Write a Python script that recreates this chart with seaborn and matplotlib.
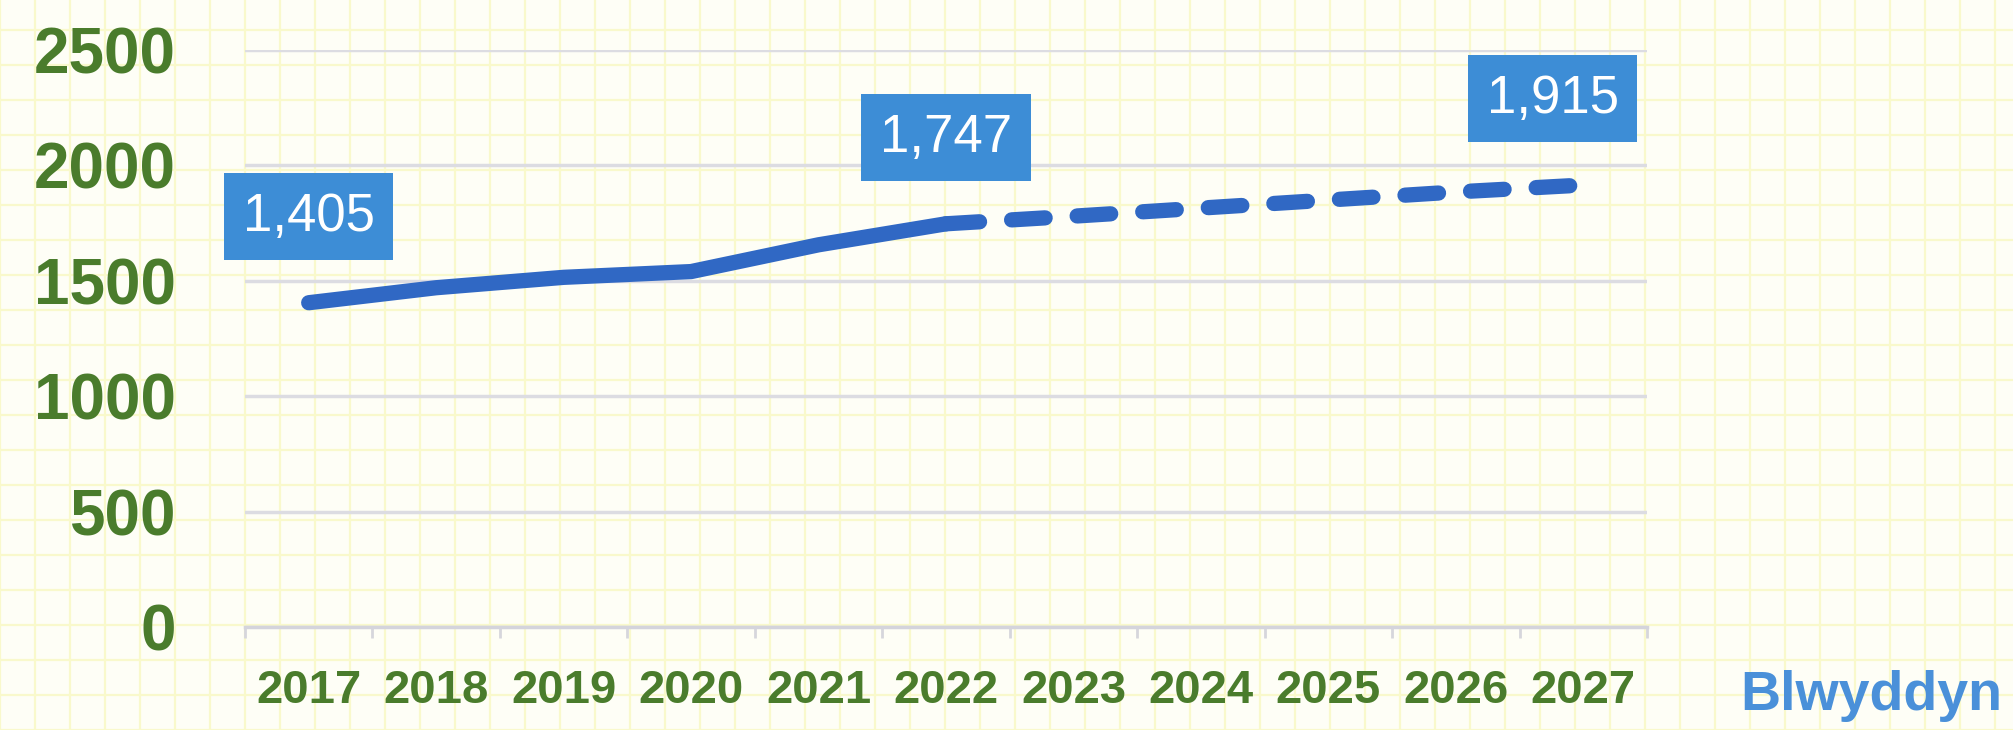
import matplotlib
matplotlib.use("Agg")
import matplotlib.pyplot as plt
from matplotlib.ticker import MultipleLocator, FixedLocator
import seaborn as sns
import pandas as pd

# ---- data ----
years = [2017, 2018, 2019, 2020, 2021, 2022, 2023, 2024, 2025, 2026, 2027]
actual_years = [2017, 2018, 2019, 2020, 2021, 2022]
actual_values = [1405, 1470, 1515, 1540, 1656, 1747]
forecast_years = [2022, 2023, 2024, 2025, 2026, 2027]
forecast_values = [1747, 1780, 1815, 1850, 1885, 1915]
label_years = [2017, 2022, 2027]
label_values = [1405, 1747, 1915]
y_ticks = [0, 500, 1000, 1500, 2000, 2500]
x_title = "Blwyddyn"

GREEN = "#4a7c2c"
LINE = "#3068c4"
BOX = "#3d8dd6"
TITLE_BLUE = "#4a90d9"

sns.set_theme(style="white")
plt.rcParams['font.family'] = ['Liberation Sans', 'DejaVu Sans']

fig = plt.figure(figsize=(20.13, 7.30), dpi=100)

# graph-paper background
bg = fig.add_axes([0, 0, 1, 1], zorder=0)
bg.set_xlim(0, 2013)
bg.set_ylim(0, 730)
bg.xaxis.set_major_locator(MultipleLocator(35))
bg.yaxis.set_major_locator(MultipleLocator(35))
bg.grid(True, color="#f9f9cc", lw=1.6)
bg.tick_params(length=0, labelbottom=False, labelleft=False)
for s in bg.spines.values():
    s.set_visible(False)
bg.set_facecolor("#fefef6")

ax = fig.add_axes([0.1217, 0.1411, 0.6965, 0.7904], zorder=1)
ax.patch.set_alpha(0)

df_a = pd.DataFrame({"year": actual_years, "value": actual_values})
df_f = pd.DataFrame({"year": forecast_years, "value": forecast_values})

sns.lineplot(data=df_a, x="year", y="value", ax=ax, color=LINE, linewidth=11,
             solid_capstyle="round", solid_joinstyle="round", zorder=3)
sns.lineplot(data=df_f, x="year", y="value", ax=ax, color=LINE, linewidth=11,
             linestyle=(0, (2.2, 2.1)), dash_capstyle="round", zorder=3)
for ln in ax.get_lines():
    ln.set_linewidth(11)

ax.set_xlim(years[0] - 0.5, years[-1] + 0.5)
ax.set_ylim(y_ticks[0], y_ticks[-1])
ax.set_xticks(years)
ax.set_xticklabels([str(y) for y in years])
ax.xaxis.set_minor_locator(FixedLocator([y - 0.5 for y in years] + [years[-1] + 0.5]))
ax.set_yticks(y_ticks)
ax.set_yticklabels([str(v) for v in y_ticks])

ax.tick_params(axis="x", which="major", length=0, pad=30, labelsize=34,
               labelcolor=GREEN)
ax.tick_params(axis="x", which="minor", length=8, width=2, color="#d6d6dc",
               direction="out", bottom=True)
ax.tick_params(axis="y", length=0, pad=50, labelsize=46, labelcolor=GREEN)
for lab in ax.get_xticklabels() + ax.get_yticklabels():
    lab.set_fontweight("bold")

ax.yaxis.grid(True, color="#dcdce2", lw=2.5)
ax.xaxis.grid(False)
for side in ["top", "right", "left"]:
    ax.spines[side].set_visible(False)
ax.spines["bottom"].set_color("#d4d4dc")
ax.spines["bottom"].set_linewidth(2.5)
ax.set_xlabel("")
ax.set_ylabel("")

for yr, v in zip(label_years, label_values):
    dx = -22 if yr == years[-1] else 0
    ax.annotate(f"{v:,}", xy=(yr, v), xytext=(dx, 62), textcoords="offset points",
                ha="center", va="center", color="white", fontsize=38,
                bbox=dict(boxstyle="square,pad=0.35", fc=BOX, ec="none"),
                zorder=5, annotation_clip=False)

fig.text(1740 / 2013, 20 / 730, x_title, ha="left", va="baseline",
         color=TITLE_BLUE, fontsize=40, fontweight="bold")

fig.savefig("out.png", dpi=100)
